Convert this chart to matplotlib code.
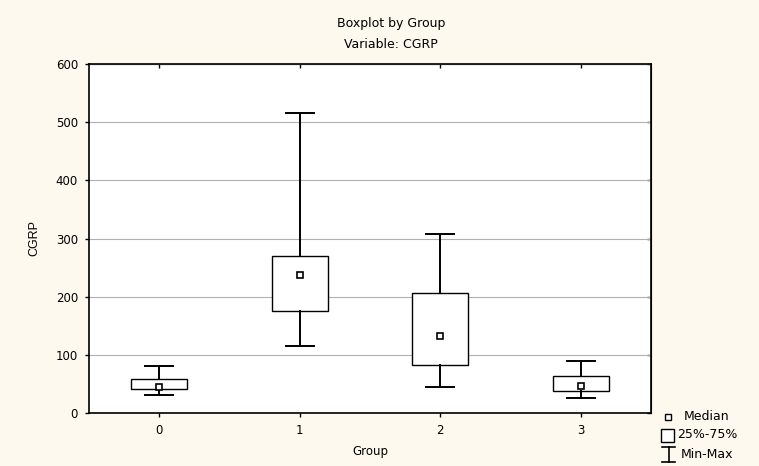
import matplotlib.pyplot as plt
from matplotlib.lines import Line2D
from matplotlib.patches import Rectangle

groups = ['0', '1', '2', '3']
mins = [31, 116, 45, 26]
q1s = [42, 175, 82, 37]
medians = [45, 237, 132, 47]
q3s = [58, 270, 207, 64]
maxs = [80, 516, 308, 90]

plt.rcParams['font.family'] = ['DejaVu Sans']
plt.rcParams['font.size'] = 8.5

bg = '#fdf9ee'
W, H = 759, 466
fig = plt.figure(figsize=(W / 100, H / 100), dpi=100, facecolor=bg)
ax = fig.add_axes([89 / W, 1 - 413 / H, 562 / W, 349 / H])

stats = []
for g, lo, a, m, b, hi in zip(groups, mins, q1s, medians, q3s, maxs):
    stats.append(dict(label=g, whislo=lo, q1=a, med=m, q3=b, whishi=hi, fliers=[]))

pos = list(range(len(groups)))
ax.bxp(stats, positions=pos, widths=0.4, capwidths=0.2, showfliers=False,
       patch_artist=True,
       boxprops=dict(facecolor='white', edgecolor='black', linewidth=1.0),
       whiskerprops=dict(color='black', linewidth=1.4),
       capprops=dict(color='black', linewidth=1.4),
       medianprops=dict(linewidth=0))
ax.plot(pos, medians, 's', ms=5, mfc='white', mec='black', mew=1.2,
        linestyle='none', zorder=5)

ax.set_xlim(-0.5, 3.5)
ax.set_ylim(0, 600)
ax.set_yticks(range(0, 601, 100))
ax.set_xticks(pos)
ax.set_xticklabels(groups)
ax.yaxis.grid(True, color='#b0b0b0', linewidth=0.8)
ax.set_axisbelow(True)
ax.tick_params(axis='both', length=3, width=1, pad=5, direction='out')
for s in ax.spines.values():
    s.set_linewidth(1.2)

# top and right ticks point inward
top = ax.secondary_xaxis('top')
top.set_xticks(pos)
top.tick_params(direction='in', length=3, width=1, labeltop=False)
right = ax.secondary_yaxis('right')
right.set_yticks(range(0, 601, 100))
right.tick_params(direction='in', length=3, width=1, labelright=False)

ax.set_xlabel('Group', labelpad=6)
ax.set_ylabel('CGRP', fontsize=9, family='Liberation Sans', labelpad=11)
fig.text(391 / W, 1 - 24 / H, 'Boxplot by Group', ha='center', va='center', fontsize=9)
fig.text(391 / W, 1 - 45 / H, 'Variable: CGRP', ha='center', va='center', fontsize=9)

# legend key
tf = fig.transFigure
fig.add_artist(Line2D([668 / W], [1 - 417 / H], marker='s', ms=4.5, mfc='white',
                      mec='black', mew=1, linestyle='none', transform=tf))
fig.add_artist(Rectangle((661 / W, 1 - 442 / H), 13 / W, 13 / H, facecolor='white',
                         edgecolor='black', linewidth=1, transform=tf))
for xs, ys in [([662, 675], [447, 447]), ([668.5, 668.5], [447, 462]), ([662, 675], [462, 462])]:
    fig.add_artist(Line2D([x / W for x in xs], [1 - y / H for y in ys], color='black',
                          linewidth=1.2, transform=tf))
fig.text(684 / W, 1 - 417 / H, 'Median', va='center', fontsize=9)
fig.text(677 / W, 1 - 435 / H, '25%-75%', va='center', fontsize=9)
fig.text(681 / W, 1 - 454 / H, 'Min-Max', va='center', fontsize=9)

fig.savefig('out.png', dpi=100, facecolor=bg)
